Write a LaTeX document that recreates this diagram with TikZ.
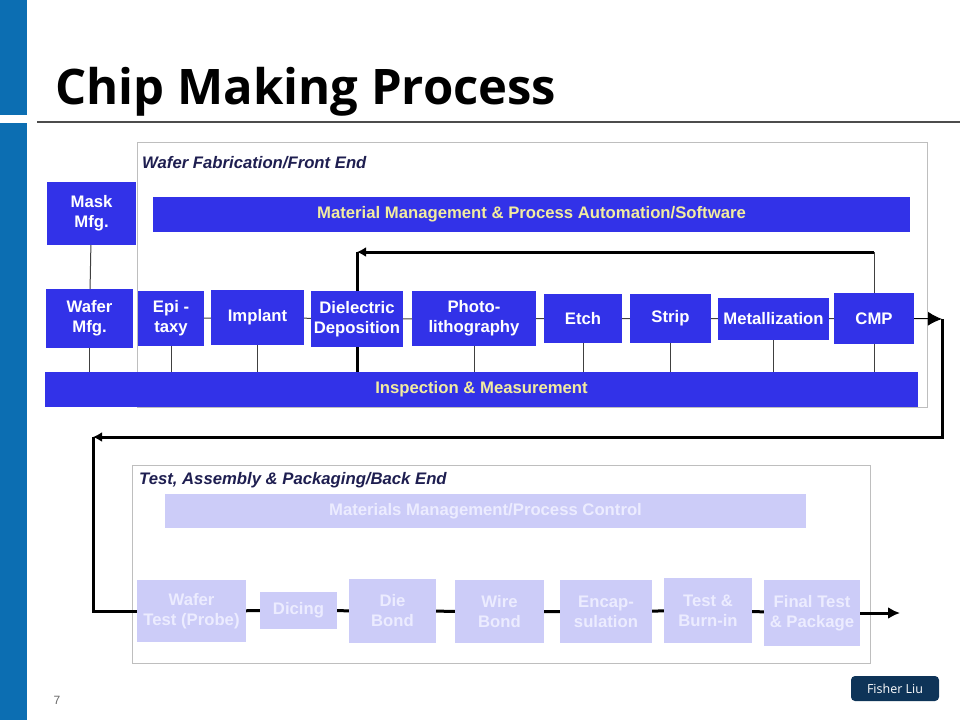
\documentclass[tikz,border=0pt]{standalone}
\usepackage{fontspec}
\setmainfont{Liberation Sans}
\newfontfamily\titlefont{Open Sans}
\usetikzlibrary{arrows.meta}

\definecolor{sidebar}{RGB}{12,110,178}
\definecolor{fabblue}{RGB}{50,50,232}
\definecolor{barlabel}{RGB}{242,236,160}
\definecolor{pkglav}{RGB}{204,204,248}
\definecolor{pkgtext}{RGB}{236,236,255}
\definecolor{panelline}{RGB}{190,190,190}
\definecolor{paneltitle}{RGB}{30,30,80}
\definecolor{badge}{RGB}{14,52,88}

\tikzset{
  fab/.style={fill=fabblue, text=white, inner sep=0pt, align=center,
    font=\fontsize{16.7}{20}\selectfont\bfseries},
  fabbar/.style={fab, text=barlabel},
  pkg/.style={fab, fill=pkglav, text=pkgtext},
  panel/.style={draw=panelline, line width=1pt},
  paneltext/.style={anchor=base west, inner sep=0pt, text=paneltitle,
    font=\fontsize{16.7}{19}\selectfont\bfseries\itshape},
  link/.style={draw=black!75, line width=1pt},
  flow/.style={draw=black, line width=3pt},
}

\begin{document}
\begin{tikzpicture}[x=1pt, y=-1pt]
  \useasboundingbox (0,0) rectangle (960,720);

  % side strip and heading
  \fill[sidebar] (0,0) rectangle (27,115);
  \fill[sidebar] (0,123) rectangle (27,720);
  \node[anchor=base west, inner sep=0pt, font=\fontsize{49}{55}\selectfont\titlefont\bfseries] (heading) at (55,104) {Chip Making Process};
  \draw[black!70, line width=2pt] (37,122) -- (960,122);

  % front end
  \draw[panel] (137,142) rectangle (927,407);
  \node[paneltext] (fronttitle) at (142,168) {Wafer Fabrication/Front End};
  \node[fabbar, minimum width=757pt, minimum height=35pt] (matbar) at (531.5,214.5) {Material Management \& Process Automation/Software};
  \node[fabbar, minimum width=873pt, minimum height=35pt] (inspbar) at (481.5,389.5) {Inspection \& Measurement};

  \node[fab, minimum width=89pt, minimum height=63pt] (mask) at (91.5,213.5) {Mask\\Mfg.};
  \node[fab, minimum width=87pt, minimum height=59pt] (wafer) at (89.5,318.5) {Wafer\\Mfg.};
  \node[fab, minimum width=66pt, minimum height=55pt] (epi) at (171,318.5) {Epi -\\taxy};
  \node[fab, minimum width=93pt, minimum height=55pt] (implant) at (257.5,317.5) {Implant};
  \node[fab, minimum width=92pt, minimum height=56pt] (dielec) at (357,319) {Dielectric\\Deposition};
  \node[fab, minimum width=124pt, minimum height=55pt] (photo) at (474,318.5) {Photo-\\lithography};
  \node[fab, minimum width=78pt, minimum height=49pt] (etch) at (583,318.5) {Etch};
  \node[fab, minimum width=81pt, minimum height=49pt] (strip) at (670.5,318.5) {Strip};
  \node[fab, minimum width=111pt, minimum height=42pt] (metal) at (773.5,319) {Metallization};
  \node[fab, minimum width=80pt, minimum height=51pt] (cmp) at (874,318.5) {CMP};

  \draw[link] (mask) -- (wafer);
  \foreach \s in {wafer,epi,implant,photo,etch,strip,metal,cmp}
    \draw[link] (\s.south) -- (\s.south |- inspbar.north);
  \draw[link] (epi) -- (implant) -- (dielec) -- (photo) -- (etch) -- (strip) -- (metal) -- (cmp);

  % rework loop
  \coordinate (loopR) at (874,252);
  \coordinate (loopL) at (357,252);
  \draw[link] (cmp.north) -- (loopR);
  \draw[flow, -{Latex[length=9pt,width=10pt]}] (loopR) -- (loopL);
  \draw[flow] (loopL) -- (dielec.north);
  \draw[flow] (dielec.south) -- (dielec.south |- inspbar.north);

  % hand-over to back end
  \coordinate (outR) at (942,319);
  \coordinate (turnA) at (942,437);
  \coordinate (turnB) at (93,437);
  \draw[link, draw=black, -{Latex[length=14pt,width=14pt]}] (cmp.east) -- (outR);
  \draw[flow, -{Latex[length=9pt,width=10pt]}] (outR) -- (turnA) -- (turnB);

  % back end
  \draw[panel] (132,465) rectangle (870,663);
  \node[paneltext] (backtitle) at (139,484) {Test, Assembly \& Packaging/Back End};
  \node[pkg, minimum width=641pt, minimum height=34pt] (mcbar) at (485.5,511) {Materials Management/Process Control};

  \node[pkg, minimum width=109pt, minimum height=62pt] (wtest) at (191.5,611) {Wafer\\Test (Probe)};
  \node[pkg, minimum width=77pt, minimum height=37pt] (dicing) at (298.5,610.5) {Dicing};
  \node[pkg, minimum width=87pt, minimum height=64pt] (diebond) at (392.5,611) {Die\\Bond};
  \node[pkg, minimum width=89pt, minimum height=63pt] (wirebond) at (499.5,611.5) {Wire\\Bond};
  \node[pkg, minimum width=92pt, minimum height=63pt] (encap) at (606,611.5) {Encap-\\sulation};
  \node[pkg, minimum width=88pt, minimum height=65pt] (burnin) at (708,610.5) {Test \&\\Burn-in};
  \node[pkg, minimum width=96pt, minimum height=66pt] (final) at (812,613) {Final Test\\\& Package};
  \coordinate (outB) at (900,613);

  \draw[flow] (turnB) |- (wtest.west);
  \draw[flow] (wtest) -- (dicing) -- (diebond) -- (wirebond) -- (encap) -- (burnin) -- (final);
  \draw[flow, -{Latex[length=12pt,width=12pt]}] (final.east) -- (outB);

  % footer
  \node[text=black!60, font=\fontsize{12}{14}\selectfont] (pagenum) at (57,700) {7};
  \node[fill=badge, rounded corners=4pt, minimum width=88pt, minimum height=25pt, inner sep=0pt, text=white, font=\fontsize{12.5}{14}\selectfont\titlefont] (author) at (895,688.5) {Fisher Liu};
\end{tikzpicture}
\end{document}
